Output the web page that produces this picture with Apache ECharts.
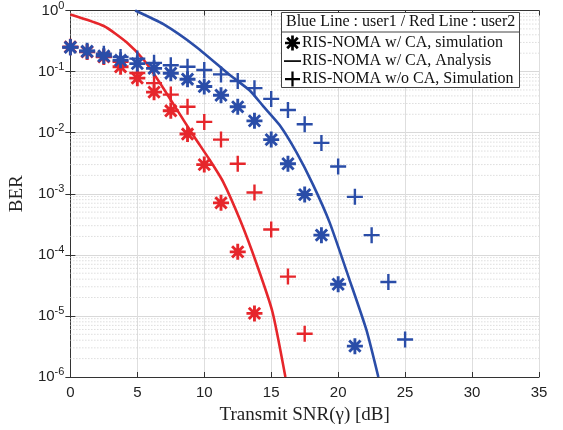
<!DOCTYPE html>
<html>
<head>
<meta charset="utf-8">
<script src="https://cdn.jsdelivr.net/npm/echarts@6/dist/echarts.min.js"></script>
<style>html,body{margin:0;padding:0;background:#fff}#c{width:563px;height:430px}</style>
</head>
<body>
<div id="c"></div>
<script>
// ---- data ----
const snrUser1CaSim = [0,1.25,2.5,3.75,5,6.25,7.5,8.75,10,11.25,12.5,13.75,15,16.25,17.5,18.75,20,21.25];
const berUser1CaSim = [0.25,0.215,0.18,0.153,0.135,0.113,0.094,0.075,0.057,0.041,0.0265,0.0156,0.0077,0.0031,0.00097,0.00021,3.3e-5,3.2e-6];

const snrUser1NoCaSim = [0,1.25,2.5,3.75,5,6.25,7.5,8.75,10,11.25,12.5,13.75,15,16.25,17.5,18.75,20,21.25,22.5,23.75,25];
const berUser1NoCaSim = [0.25,0.22,0.196,0.174,0.163,0.139,0.127,0.12,0.106,0.09,0.07,0.0536,0.0357,0.0235,0.0137,0.0068,0.0028,0.00089,0.00021,3.6e-5,4.1e-6];

const snrUser2CaSim = [0,1.25,2.5,3.75,5,6.25,7.5,8.75,10,11.25,12.5,13.75];
const berUser2CaSim = [0.254,0.21,0.174,0.12,0.078,0.046,0.0228,0.0095,0.003,0.00071,0.000112,1.1e-5];

const snrUser2NoCaSim = [0,1.25,2.5,3.75,5,6.25,7.5,8.75,10,11.25,12.5,13.75,15,16.25,17.5];
const berUser2NoCaSim = [0.25,0.21,0.175,0.145,0.095,0.0646,0.042,0.0265,0.015,0.0077,0.0031,0.00105,0.00026,4.4e-5,5.1e-6];

const snrUser1Ana = [4.84,6.95,9.43,11.91,13.4,14.4,15.64,16.88,18.12,19.36,20.85,22.1,23.0];
const berUser1Ana = [1.0,0.596,0.251,0.0877,0.049,0.0272,0.0132,0.00479,0.00141,3.4e-4,3.9e-5,6.0e-6,1.0e-6];

const snrUser2Ana = [0,2.5,4.2,5.5,6.7,7.9,9.2,10.4,11.4,12.7,13.9,15.1,16.06];
const berUser2Ana = [0.863,0.558,0.302,0.153,0.0646,0.025,0.0089,0.0036,0.00158,3.6e-4,7.2e-5,1.15e-5,1.0e-6];

const xTicks = [0,5,10,15,20,25,30,35];
const yMinorGrid = [];
[1e-6,1e-5,1e-4,1e-3,1e-2,1e-1].forEach(d => { [2,3,4,5,6,7,8,9].forEach(m => yMinorGrid.push(+(m*d).toPrecision(3))); });

const legendNames = ['RIS-NOMA w/ CA, simulation','RIS-NOMA w/ CA, Analysis','RIS-NOMA w/o CA, Simulation'];
const legendHeader = 'Blue Line : user1 / Red Line : user2';

// ---- style ----
const RED = '#e6262b', BLUE = '#2a4da8';
const PLUS = 'path://M-1.5,-10 L1.5,-10 L1.5,-1.5 L10,-1.5 L10,1.5 L1.5,1.5 L1.5,10 L-1.5,10 L-1.5,1.5 L-10,1.5 L-10,-1.5 L-1.5,-1.5 Z';
const STAR = 'path://M-10,-1.8 L10,-1.8 L10,1.8 L-10,1.8 Z M1.8,-10 L1.8,10 L-1.8,10 L-1.8,-10 Z M-5.8,-8.35 L8.35,5.8 L5.8,8.35 L-8.35,-5.8 Z M8.35,-5.8 L-5.8,8.35 L-8.35,5.8 L5.8,-8.35 Z';
const DASH = 'path://M0,0 L0,0 M0,6.6 L20,6.6 L20,8.6 L0,8.6 Z M0,15 L0,15';
const SERIF = '"Liberation Serif", "DejaVu Serif", serif';
const SANS = '"Liberation Sans", Arial, sans-serif';

const zip = (xs, ys) => xs.map((x, i) => [x, ys[i]]);
const markers = (name, xs, ys, color, sym, size, z) => ({
  type: 'scatter', name: name, data: zip(xs, ys), symbol: sym, symbolSize: size,
  itemStyle: { color: color, opacity: 1 }, z: z, silent: true
});
const lineS = (xs, ys, color) => ({
  type: 'line', data: zip(xs, ys), showSymbol: false, symbol: 'none', smooth: 0.2,
  lineStyle: { color: color, width: 2.6 }, z: 3, clip: true, silent: true
});
const minorLines = yMinorGrid.map(v => ({
  type: 'line', data: [[0, v], [35, v]], showSymbol: false, symbol: 'none', silent: true, z: 1,
  lineStyle: { color: '#cccccc', width: 1, type: [1, 2] }
}));

const chart = echarts.init(document.getElementById('c'), null, { renderer: 'canvas' });
const gridL = 70, gridR = 24, gridT = 6, gridB = 51;

chart.setOption({
  animation: false,
  backgroundColor: '#fff',
  grid: { left: gridL, right: gridR, top: gridT, bottom: gridB, containLabel: false },
  xAxis: [{
    type: 'value', min: 0, max: 35, interval: 5,
    name: 'Transmit SNR(γ) [dB]', nameLocation: 'middle', nameGap: 29,
    nameTextStyle: { fontFamily: SERIF, fontSize: 19, color: '#222' },
    axisLine: { lineStyle: { color: '#333', width: 1 } },
    axisTick: { inside: true, length: 5, lineStyle: { color: '#333' } },
    axisLabel: { fontFamily: SANS, fontSize: 15, color: '#222', margin: 8 },
    splitLine: { show: true, lineStyle: { color: '#dedede', width: 1 } }
  }, {
    type: 'value', min: 0, max: 35, interval: 5, position: 'top',
    axisLine: { lineStyle: { color: '#333', width: 1 } },
    axisTick: { inside: true, length: 5, lineStyle: { color: '#333' } },
    axisLabel: { show: false }, splitLine: { show: false }
  }],
  yAxis: [{
    type: 'log', logBase: 10, min: 1e-6, max: 1,
    name: 'BER', nameLocation: 'middle', nameGap: 41, nameRotate: 90,
    nameTextStyle: { fontFamily: SERIF, fontSize: 19, color: '#222' },
    axisLine: { show: true, lineStyle: { color: '#333', width: 1 } },
    axisTick: { show: true, inside: true, length: 5, lineStyle: { color: '#333' } },
    axisLabel: {
      margin: 6,
      formatter: v => '{b|10}{s|' + Math.round(Math.log10(v)) + '}',
      rich: {
        b: { fontFamily: SANS, fontSize: 15, color: '#222' },
        s: { fontFamily: SANS, fontSize: 11, color: '#222', padding: [0, 0, 10, 0] }
      }
    },
    splitLine: { show: true, lineStyle: { color: '#d9d9d9', width: 1 } }
  }, {
    type: 'log', logBase: 10, min: 1e-6, max: 1, position: 'right',
    axisLine: { show: true, lineStyle: { color: '#333', width: 1 } },
    axisTick: { show: true, inside: true, length: 5, lineStyle: { color: '#333' } },
    axisLabel: { show: false }, splitLine: { show: false }
  }],
  legend: {
    orient: 'vertical', left: 284, top: 35, itemWidth: 17, itemHeight: 15, itemGap: 2, z: 150,
    padding: 0,
    data: [
      { name: legendNames[0], icon: STAR },
      { name: legendNames[1], icon: DASH },
      { name: legendNames[2], icon: PLUS }
    ],
    itemStyle: { opacity: 1 },
    textStyle: { fontFamily: SERIF, fontSize: 16, color: '#111', padding: [0, 0, 0, -4] },
    selectedMode: false
  },
  graphic: [
    { type: 'rect', left: 281, top: 12, shape: { width: 238, height: 75 }, style: { fill: '#fff', stroke: '#444', lineWidth: 1 }, z: 100 },
    { type: 'line', shape: { x1: 281, y1: 32, x2: 519, y2: 32 }, style: { stroke: '#444', lineWidth: 1 }, z: 101 },
    { type: 'text', left: 286, top: 14, style: { text: legendHeader, font: '16px ' + SERIF, fill: '#111' }, z: 101 }
  ],
  series: minorLines.concat([
    lineS(snrUser2Ana, berUser2Ana, RED),
    lineS(snrUser1Ana, berUser1Ana, BLUE),
    markers('u2nc', snrUser2NoCaSim, berUser2NoCaSim, RED, PLUS, 16, 4),
    markers('u2c', snrUser2CaSim, berUser2CaSim, RED, STAR, 16, 5),
    markers('u1nc', snrUser1NoCaSim, berUser1NoCaSim, BLUE, PLUS, 16, 6),
    markers('u1c', snrUser1CaSim, berUser1CaSim, BLUE, STAR, 16, 7),
    // legend-only entries
    { type: 'scatter', name: legendNames[0], data: [], symbol: STAR, symbolSize: 15, itemStyle: { color: '#000', opacity: 1 } },
    { type: 'line', name: legendNames[1], data: [], symbol: 'none', showSymbol: false, lineStyle: { color: '#000', width: 2 }, itemStyle: { color: '#000', opacity: 1 } },
    { type: 'scatter', name: legendNames[2], data: [], symbol: PLUS, symbolSize: 16, itemStyle: { color: '#000', opacity: 1 } }
  ])
});
</script>
</body>
</html>
